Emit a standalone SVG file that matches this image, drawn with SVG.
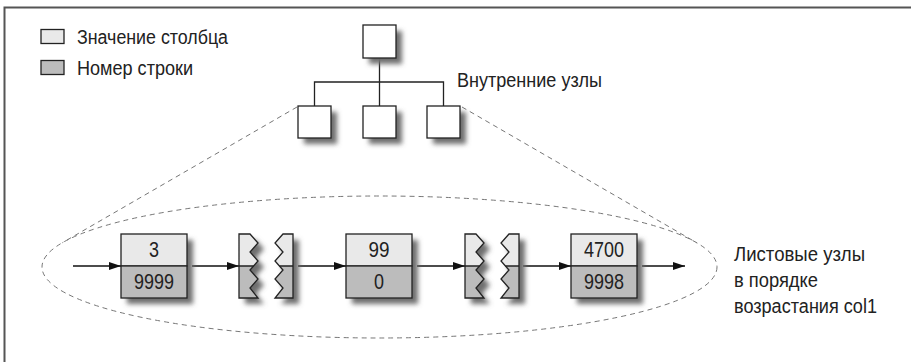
<svg xmlns="http://www.w3.org/2000/svg" width="911" height="362" viewBox="0 0 911 362">
<defs>
<style>
.frame{fill:none;stroke:#555;stroke-width:2}
.box{fill:#fff;stroke:#222;stroke-width:1.3}
.val{fill:#e9e9e9;stroke:#222;stroke-width:1.3}
.row{fill:#bcbcbc;stroke:#222;stroke-width:1.3}
.brk{fill:url(#split);stroke:#222;stroke-width:1.3;stroke-linejoin:miter}
.shd{fill:#6e6e6e;filter:url(#blur)}
.ln{fill:none;stroke:#222;stroke-width:1.3}
.dash{fill:none;stroke:#777;stroke-width:1;stroke-dasharray:5 4}
.arr{fill:none;stroke:#111;stroke-width:1.3;marker-end:url(#ah)}
.t{font-family:"Liberation Sans",Arial,sans-serif;font-size:20px;fill:#222}
.n{font-family:"Liberation Sans",Arial,sans-serif;font-size:22px;fill:#222;text-anchor:middle}
</style>
<filter id="blur" x="-40%" y="-40%" width="180%" height="180%"><feGaussianBlur stdDeviation="2.5"/></filter>
<linearGradient id="split" gradientUnits="userSpaceOnUse" x1="0" y1="234" x2="0" y2="298">
<stop offset="0.5" stop-color="#e9e9e9"/><stop offset="0.5" stop-color="#bcbcbc"/>
</linearGradient>
<marker id="ah" viewBox="0 0 12 8" refX="12" refY="4" markerWidth="12" markerHeight="8" markerUnits="userSpaceOnUse" orient="auto">
<path d="M0,0 L12,4 L0,8 Z" fill="#111"/>
</marker>
</defs>
<rect width="911" height="362" fill="#fff"/>
<path class="frame" d="M4.5,362 V7.5 H911"/>

<g id="legend">
<rect class="val" x="41" y="29.5" width="23" height="14"/>
<text class="t" x="77" y="43.5" textLength="151" lengthAdjust="spacingAndGlyphs">Значение столбца</text>
<rect class="row" x="41" y="60.5" width="23" height="14"/>
<text class="t" x="77" y="74.5" textLength="116" lengthAdjust="spacingAndGlyphs">Номер строки</text>
</g>

<g id="connectors">
<path class="dash" d="M297,107 L62.4,242.7"/>
<path class="dash" d="M462,107 L696.6,242.7"/>
<ellipse class="dash" cx="379.5" cy="267" rx="337.5" ry="71"/>
<path class="ln" d="M379.5,58 V82 M314.5,106 V82 H443.5 V106 M379.5,82 V106"/>
<line class="arr" x1="73" y1="266" x2="121" y2="266"/>
<line class="arr" x1="192" y1="266" x2="239" y2="266"/>
<line class="arr" x1="298" y1="266" x2="346" y2="266"/>
<line class="arr" x1="417" y1="266" x2="465" y2="266"/>
<line class="arr" x1="523" y1="266" x2="571" y2="266"/>
<line class="arr" x1="642" y1="266" x2="685" y2="266"/>
</g>

<g id="internal-root">
<rect class="shd" x="369" y="31" width="33" height="33"/>
<rect class="box" x="363" y="25" width="33" height="33"/>
</g>
<g id="internal-1">
<rect class="shd" x="304" y="112" width="33" height="32"/>
<rect class="box" x="298" y="106" width="33" height="32"/>
</g>
<g id="internal-2">
<rect class="shd" x="369" y="112" width="33" height="32"/>
<rect class="box" x="363" y="106" width="33" height="32"/>
</g>
<g id="internal-3">
<rect class="shd" x="433" y="112" width="33" height="32"/>
<rect class="box" x="427" y="106" width="33" height="32"/>
</g>
<text id="label-internal" class="t" x="457" y="87" textLength="145" lengthAdjust="spacingAndGlyphs">Внутренние узлы</text>

<g id="leaf-1">
<rect class="shd" x="127" y="240" width="66" height="64"/>
<rect class="val" x="121" y="234" width="66" height="32"/>
<rect class="row" x="121" y="266" width="66" height="32"/>
<text class="n" x="154" y="257" textLength="10" lengthAdjust="spacingAndGlyphs">3</text>
<text class="n" x="154" y="289" textLength="40" lengthAdjust="spacingAndGlyphs">9999</text>
</g>

<g id="gap-1">
<g transform="translate(6,6)">
<path class="shd" d="M239,234 H250 L258,243 L250,252 L258,261 L250,270 L258,279 L250,288 L258,298 H239 Z"/>
<path class="shd" d="M283,234 H293 V298 H275 L283,288 L275,279 L283,270 L275,261 L283,252 L275,243 Z"/>
</g>
<path class="brk" d="M239,234 H250 L258,243 L250,252 L258,261 L250,270 L258,279 L250,288 L258,298 H239 Z"/>
<path class="brk" d="M283,234 H293 V298 H275 L283,288 L275,279 L283,270 L275,261 L283,252 L275,243 Z"/>
<path class="ln" d="M239,266 H253.6 M279.4,266 H293"/>
</g>

<g id="leaf-2">
<rect class="shd" x="352" y="240" width="66" height="64"/>
<rect class="val" x="346" y="234" width="66" height="32"/>
<rect class="row" x="346" y="266" width="66" height="32"/>
<text class="n" x="379" y="257" textLength="21" lengthAdjust="spacingAndGlyphs">99</text>
<text class="n" x="379" y="289" textLength="10" lengthAdjust="spacingAndGlyphs">0</text>
</g>

<g id="gap-2" transform="translate(226,0)">
<g transform="translate(6,6)">
<path class="shd" d="M239,234 H250 L258,243 L250,252 L258,261 L250,270 L258,279 L250,288 L258,298 H239 Z"/>
<path class="shd" d="M283,234 H293 V298 H275 L283,288 L275,279 L283,270 L275,261 L283,252 L275,243 Z"/>
</g>
<path class="brk" d="M239,234 H250 L258,243 L250,252 L258,261 L250,270 L258,279 L250,288 L258,298 H239 Z"/>
<path class="brk" d="M283,234 H293 V298 H275 L283,288 L275,279 L283,270 L275,261 L283,252 L275,243 Z"/>
<path class="ln" d="M239,266 H253.6 M279.4,266 H293"/>
</g>

<g id="leaf-3">
<rect class="shd" x="577" y="240" width="66" height="64"/>
<rect class="val" x="571" y="234" width="66" height="32"/>
<rect class="row" x="571" y="266" width="66" height="32"/>
<text class="n" x="604" y="257" textLength="40" lengthAdjust="spacingAndGlyphs">4700</text>
<text class="n" x="604" y="289" textLength="40" lengthAdjust="spacingAndGlyphs">9998</text>
</g>

<g id="label-leaf">
<text class="t" x="734" y="261" textLength="131" lengthAdjust="spacingAndGlyphs">Листовые узлы</text>
<text class="t" x="734" y="287" textLength="84" lengthAdjust="spacingAndGlyphs">в порядке</text>
<text class="t" x="734" y="313" textLength="143" lengthAdjust="spacingAndGlyphs">возрастания col1</text>
</g>
</svg>
